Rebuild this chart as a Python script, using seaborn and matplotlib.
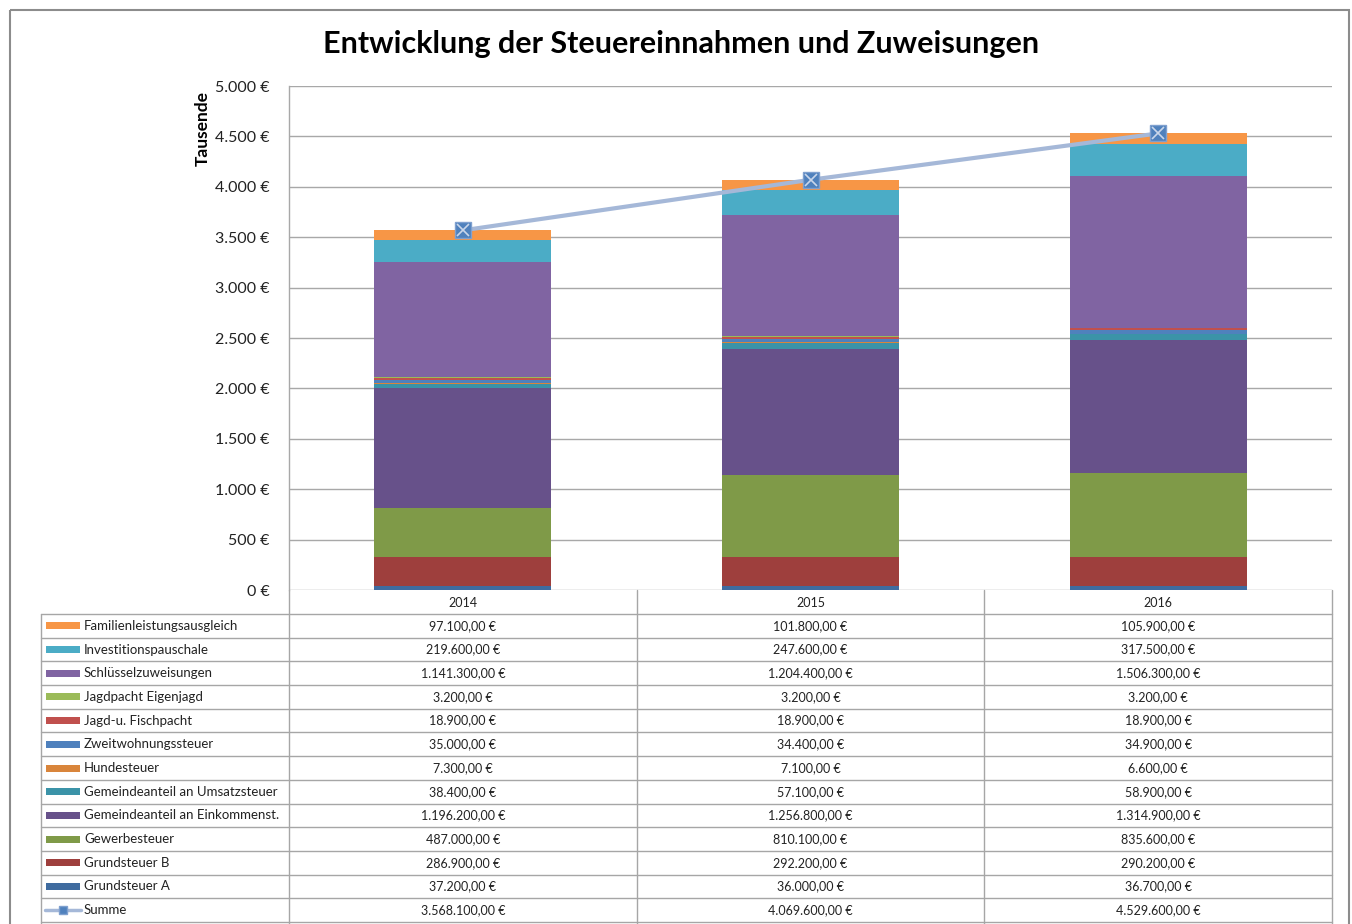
import numpy as np
import pandas as pd
import matplotlib
matplotlib.use("Agg")
import matplotlib.pyplot as plt
import seaborn as sns
from matplotlib.patches import Rectangle

# Data (Euro)
years = ["2014", "2015", "2016"]

# stacking order, bottom to top
series = [
    "Grundsteuer A",
    "Grundsteuer B",
    "Gewerbesteuer",
    "Gemeindeanteil an Einkommenst.",
    "Gemeindeanteil an Umsatzsteuer",
    "Hundesteuer",
    "Zweitwohnungssteuer",
    "Jagd-u. Fischpacht",
    "Jagdpacht Eigenjagd",
    "Schlüsselzuweisungen",
    "Investitionspauschale",
    "Familienleistungsausgleich",
]
grundsteuer_a = [37200, 36000, 36700]
grundsteuer_b = [286900, 292200, 290200]
gewerbesteuer = [487000, 810100, 835600]
einkommenst = [1196200, 1256800, 1314900]
umsatzsteuer = [38400, 57100, 58900]
hundesteuer = [7300, 7100, 6600]
zweitwohnung = [35000, 34400, 34900]
jagd_fisch = [18900, 18900, 18900]
jagd_eigen = [3200, 3200, 3200]
schluessel = [1141300, 1204400, 1506300]
invest = [219600, 247600, 317500]
familien = [97100, 101800, 105900]
summe = [3568100, 4069600, 4529600]

values = [grundsteuer_a, grundsteuer_b, gewerbesteuer, einkommenst, umsatzsteuer,
          hundesteuer, zweitwohnung, jagd_fisch, jagd_eigen, schluessel, invest, familien]

colors = ["#3F6B9F", "#9E3F3D", "#7F9A48", "#67518A", "#3B93A8", "#D9853B",
          "#4F81BD", "#C0504D", "#9BBB59", "#8064A2", "#4BACC6", "#F79646"]

df = pd.DataFrame({s: v for s, v in zip(series, values)}, index=years)


def eur(v, dec=2):
    s = f"{v:,.{dec}f}".replace(",", "X").replace(".", ",").replace("X", ".")
    return s + " €"


sns.set_theme(style="white")
plt.rcParams["font.family"] = ["Lato", "DejaVu Sans"]

W, H = 1352, 924
fig = plt.figure(figsize=(W / 100, H / 100), dpi=100)

# plot area in pixels
x0, x1, y_top, y_bot = 289, 1332, 86, 590
ax = fig.add_axes([x0 / W, 1 - y_bot / H, (x1 - x0) / W, (y_bot - y_top) / H])

pos = np.arange(len(years))
bottom = np.zeros(len(years))
for s, c in zip(series, colors):
    h = df[s].to_numpy() / 1000
    ax.bar(pos, h, bottom=bottom, width=0.51, color=c, linewidth=0, zorder=2)
    bottom += h

line_df = pd.DataFrame({"x": pos, "y": np.array(summe) / 1000})
sns.lineplot(data=line_df, x="x", y="y", ax=ax, color="#A5B8D8", linewidth=3, zorder=3)
ax.plot(pos, line_df["y"], ls="none", marker="s", ms=11, mfc="#4F81BD", mec="#7FA0CF",
        mew=1, zorder=4)
ax.plot(pos, line_df["y"], ls="none", marker="x", ms=8, mec="#C9D6EA", mew=1.2, zorder=5)

ax.set_xlim(-0.5, 2.5)
ax.set_ylim(0, 5000)
ax.set_yticks(np.arange(0, 5001, 500))
ax.set_yticklabels([eur(t, 0) for t in range(0, 5001, 500)], fontsize=11.5, color="#222222")
ax.set_xticks([])
ax.set_xlabel("")
ax.set_ylabel("")
ax.yaxis.grid(True, color="#A8A8A8", linewidth=1, zorder=0)
ax.tick_params(axis="y", length=0, pad=14)
for side in ["top", "right", "bottom"]:
    ax.spines[side].set_visible(False)
ax.spines["left"].set_color("#A8A8A8")
ax.spines["left"].set_linewidth(1)

# overlay in pixel coordinates for table, title and frame
ov = fig.add_axes([0, 0, 1, 1])
ov.set_xlim(0, W)
ov.set_ylim(H, 0)
ov.axis("off")
ov.patch.set_alpha(0)

ov.add_patch(Rectangle((10, 10), 1339, 930, fill=False, ec="#8C8C8C", lw=1.5))
ov.text(681, 44, "Entwicklung der Steuereinnahmen und Zuweisungen", ha="center",
        va="center", fontsize=22, fontweight="bold", color="black")
ov.text(203, 128, "Tausende", rotation=90, ha="center", va="center", fontsize=12.5,
        fontweight="bold", color="black")

# data table
grid_c = "#A6A6A6"
col_edges = [x0 + i * (x1 - x0) / 3 for i in range(4)]
tab_left = 41
head_top, head_bot = 590, 614
row_h = (922 - head_bot) / 13
row_tops = [head_bot + i * row_h for i in range(14)]

for xe in col_edges:
    ov.plot([xe, xe], [head_top, 930], color=grid_c, lw=1)
ov.plot([tab_left, tab_left], [head_bot, 930], color=grid_c, lw=1)
ov.plot([tab_left, x1], [head_bot, head_bot], color=grid_c, lw=1)
for yt in row_tops[1:]:
    ov.plot([tab_left, x1], [yt, yt], color=grid_c, lw=1)

for i, yr in enumerate(years):
    ov.text((col_edges[i] + col_edges[i + 1]) / 2, (head_top + head_bot) / 2 + 1, yr,
            ha="center", va="center", fontsize=9, color="#222222")

rows = list(zip(series, values, colors))[::-1]
for r, (name, vals, c) in enumerate(rows):
    yc = row_tops[r] + row_h / 2
    ov.add_patch(Rectangle((46, yc - 3.5), 34, 7, color=c, lw=0))
    ov.text(84, yc, name, ha="left", va="center", fontsize=9.5, color="#222222")
    for i, v in enumerate(vals):
        ov.text((col_edges[i] + col_edges[i + 1]) / 2, yc, eur(v), ha="center",
                va="center", fontsize=9, color="#222222")

yc = row_tops[12] + row_h / 2
ov.plot([45, 81], [yc, yc], color="#A5B8D8", lw=2.5)
ov.plot([63], [yc], marker="s", ms=6, mfc="#4F81BD", mec="#7FA0CF", ls="none")
ov.text(84, yc, "Summe", ha="left", va="center", fontsize=9.5, color="#222222")
for i, v in enumerate(summe):
    ov.text((col_edges[i] + col_edges[i + 1]) / 2, yc, eur(v), ha="center",
            va="center", fontsize=9, color="#222222")

fig.savefig("out.png", dpi=100, facecolor="white")
